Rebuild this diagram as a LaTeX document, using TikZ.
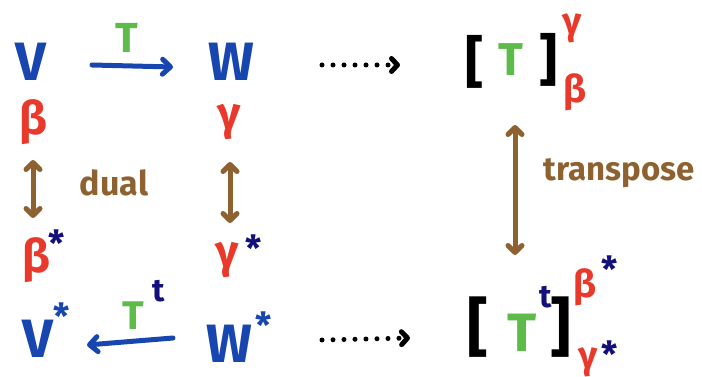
\documentclass[tikz,border=0pt]{standalone}
\usepackage{fontspec}
\setmainfont{Fira Sans}
\usetikzlibrary{arrows.meta}
\definecolor{cblue}{HTML}{1846B0}
\definecolor{cred}{HTML}{E8392A}
\definecolor{cgreen}{HTML}{5DBB4A}
\definecolor{cbrown}{HTML}{8E6230}
\definecolor{cnavy}{HTML}{14107A}
\begin{document}
\begin{tikzpicture}[x=1pt,y=-1pt,
  lbl/.style={inner sep=0pt,font=\fontsize{#1}{#1}\selectfont\bfseries},
  lbl/.default=40,
  star/.style={inner sep=0pt,anchor=north,text=cnavy,font=\fontsize{36}{36}\selectfont\bfseries},
  pen/.style={line width=5pt,line cap=round,line join=round},
  bluearrow/.style={pen,cblue,-{Straight Barb[length=8pt,width=15pt,line cap=round,line join=round]}},
  brownarrow/.style={pen,cbrown,{Straight Barb[length=7pt,width=14pt,line cap=round,line join=round]}-{Straight Barb[length=7pt,width=14pt,line cap=round,line join=round]}},
  dotarrow/.style={line width=5pt,line cap=round,dash pattern=on 0pt off 11pt,-{Straight Barb[length=6pt,width=13pt,line cap=round,line join=round,line width=5pt,sep=0pt]}}
]
\useasboundingbox (0,0) rectangle (702,377);
% left diagram
\node[lbl=54,text=cblue] (V) at (31,62) {V};
\node[lbl=54,text=cblue] (W) at (231,62) {W};
\node[lbl=42,text=cgreen] (T) at (127,38) {T};
\coordinate (a1) at (92,65); \coordinate (a2) at (173,67);
\draw[bluearrow] (a1) -- (a2);
\node[lbl=46,text=cred] (beta) at (33,122) {β};
\node[lbl=46,text=cred] (gamma) at (229,122) {γ};
\coordinate (l1) at (33,160); \coordinate (l2) at (33,218);
\coordinate (r1) at (230,162); \coordinate (r2) at (230,223);
\draw[brownarrow] (l1) -- (l2);
\draw[brownarrow] (r1) -- (r2);
\node[lbl=34,text=cbrown] (dual) at (114,183) {dual};
\node[lbl=46,text=cred] (betas) at (36,260) {β};
\node[star] (betastar) at (57,230) {*};
\node[lbl=46,text=cred] (gammas) at (227,260) {γ};
\node[star] (gammastar) at (254,235) {*};
\node[lbl=54,text=cblue] (Vs) at (38,339) {V};
\node[star,text=cblue] (Vstar) at (62,303) {*};
\node[lbl=54,text=cblue] (Ws) at (229,344) {W};
\node[star,text=cblue] (Wstar) at (264,312) {*};
\node[lbl=40,text=cgreen] (Tt) at (133,316) {T};
\node[lbl=32,text=cnavy] (tt) at (159,291) {t};
\coordinate (b1) at (173,338); \coordinate (b2) at (87,345);
\draw[bluearrow] (b1) -- (b2);
% dotted arrows
\coordinate (d1) at (322,65); \coordinate (d2) at (400,65);
\draw[dotarrow] (d1) -- (d2);
\coordinate (e1) at (322,340); \coordinate (e2) at (410,338);
\draw[dotarrow] (e1) -- (e2);
% top matrix
\node[lbl=56] (lb1) at (475,62) {[};
\node[lbl=46,text=cgreen] (MT) at (511,60) {T};
\node[lbl=56] (rb1) at (549,60) {]};
\node[lbl=38,text=cred] (mg) at (572,28) {γ};
\node[lbl=38,text=cred] (mb) at (575,92) {β};
% transpose
\coordinate (t1) at (515,125); \coordinate (t2) at (515,255);
\draw[brownarrow] (t1) -- (t2);
\node[lbl=33,text=cbrown] (trans) at (619,173) {transpose};
% bottom matrix
\node[lbl=64] (lb2) at (478,327) {[};
\node[lbl=54,text=cgreen] (MTt) at (522,333) {T};
\node[lbl=32,text=cnavy] (Mt) at (546,297) {t};
\node[lbl=64] (rb2) at (561,327) {]};
\node[lbl=38,text=cred] (mbs) at (585,287) {β};
\node[star] (mbstar) at (610,256) {*};
\node[lbl=38,text=cred] (mgs) at (588,362) {γ};
\node[star] (mgstar) at (610,341) {*};
\end{tikzpicture}
\end{document}
